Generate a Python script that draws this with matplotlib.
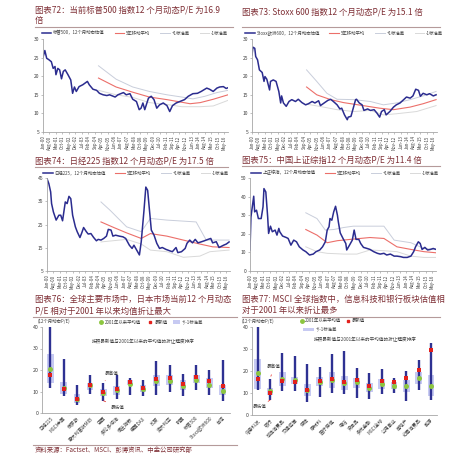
import matplotlib
matplotlib.use('Agg')
import matplotlib.pyplot as plt
from matplotlib.lines import Line2D
from matplotlib.patches import Patch
import numpy as np

plt.rcParams['font.family'] = ['Noto Sans CJK SC', 'DejaVu Sans']

# ---------------- data ----------------
date_ticks = [0, 7, 14, 21, 28, 35, 42, 49, 56, 63, 70, 77, 84, 91, 98, 105, 112,
              119, 126, 133, 140, 147, 154, 161, 168, 175, 182, 189, 196]
date_labels = ["Jan-00", "Aug-00", "Mar-01", "Oct-01", "May-02", "Dec-02", "Jul-03",
               "Feb-04", "Sep-04", "Apr-05", "Nov-05", "Jun-06", "Jan-07", "Aug-07",
               "Mar-08", "Oct-08", "May-09", "Dec-09", "Jul-10", "Feb-11", "Sep-11",
               "Apr-12", "Nov-12", "Jun-13", "Jan-14", "Aug-14", "Mar-15", "Oct-15", "May-16"]

# S&P 500
spx_m = [0, 2, 4, 6, 9, 11, 13, 14, 16, 18, 20, 22, 24, 27, 30, 32, 34, 36, 39, 43, 48, 50,
         54, 58, 61, 65, 69, 72, 78, 81, 87, 90, 94, 97, 101, 104, 106, 108, 110, 114, 117,
         120, 123, 126, 130, 134, 137, 140, 144, 148, 153, 157, 162, 167, 171, 177, 180,
         184, 188, 191, 195, 198, 200]
spx_v = [25.1, 26.9, 24.8, 24.5, 23.9, 22.1, 22.6, 20.4, 22.1, 21.7, 19.3, 21.3, 21.7, 20.4,
         19.0, 15.4, 17.1, 15.9, 17.2, 17.7, 18.6, 17.7, 16.5, 16.2, 15.4, 15.0, 14.8, 15.0,
         14.4, 15.0, 15.6, 15.0, 15.3, 13.8, 13.2, 11.0, 11.4, 12.8, 11.0, 14.1, 14.6, 13.7,
         11.4, 12.3, 12.8, 12.1, 10.5, 12.1, 12.8, 13.2, 13.7, 14.6, 15.3, 15.4, 15.9, 16.8,
         16.5, 15.9, 16.8, 17.1, 17.2, 16.7, 16.9]
spx_ma_m = [60, 79, 97, 115, 134, 150, 159, 170, 184, 200]
spx_ma_v = [19.5, 17.1, 15.7, 14.4, 13.7, 13.0, 12.6, 12.9, 13.8, 15.0]
spx_up_m = [60, 79, 97, 115, 134, 150, 162, 175, 188, 200]
spx_up_v = [22.8, 19.2, 17.1, 15.9, 15.0, 14.4, 13.9, 14.6, 15.6, 16.2]
spx_lo_m = [60, 79, 97, 115, 134, 150, 170, 184, 200]
spx_lo_v = [16.2, 15.0, 14.3, 12.9, 12.4, 11.8, 11.8, 12.0, 13.5]

# Stoxx 600
sxx_m = [0, 1, 3, 4, 6, 8, 11, 13, 14, 16, 19, 20, 23, 26, 29, 31, 32, 34, 37, 40, 43, 47,
         50, 54, 58, 61, 65, 68, 72, 74, 78, 82, 85, 88, 92, 95, 97, 100, 103, 104, 107, 110,
         112, 113, 116, 119, 121, 125, 128, 132, 135, 138, 140, 143, 145, 149, 153, 156, 160,
         164, 167, 171, 174, 177, 180, 182, 185, 189, 192, 196, 199]
sxx_v = [25.7, 27.8, 27.5, 25.3, 24.4, 21.7, 21.0, 18.6, 19.9, 19.2, 16.3, 18.6, 19.0, 18.6,
         15.9, 12.8, 14.7, 12.8, 11.9, 13.2, 13.7, 13.2, 13.8, 12.9, 12.3, 12.6, 13.2, 12.8,
         13.4, 12.1, 12.8, 13.5, 13.8, 13.2, 12.3, 11.2, 11.4, 9.6, 8.3, 9.0, 9.2, 11.9, 13.7,
         13.8, 12.8, 12.3, 10.8, 11.2, 10.8, 11.0, 10.1, 9.0, 10.5, 11.0, 9.6, 10.5, 11.7,
         12.3, 12.8, 13.7, 14.4, 14.1, 14.7, 16.5, 16.2, 14.6, 15.4, 15.0, 15.3, 14.7, 15.0]
sxx_ma_m = [59, 70, 85, 99, 120, 138, 153, 171, 185, 199]
sxx_ma_v = [17.1, 15.0, 13.7, 12.9, 12.1, 11.4, 11.0, 11.7, 12.6, 13.7]
sxx_up_m = [59, 70, 81, 92, 110, 128, 142, 156, 171, 185, 199]
sxx_up_v = [21.7, 18.6, 15.4, 13.8, 13.7, 13.2, 12.3, 12.8, 13.7, 14.7, 15.9]
sxx_lo_m = [59, 75, 92, 110, 128, 142, 156, 178, 199]
sxx_lo_v = [12.5, 11.8, 11.0, 10.5, 10.8, 9.6, 9.9, 10.5, 12.1]

# Nikkei 225
nky_m = [0, 2, 4, 5, 7, 10, 13, 15, 17, 20, 22, 24, 26, 28, 31, 33, 36, 38, 40, 43, 45, 48,
         51, 54, 56, 59, 62, 65, 67, 70, 72, 75, 79, 83, 86, 90, 93, 95, 98, 101, 103, 106,
         108, 110, 112, 114, 117, 120, 123, 126, 130, 134, 137, 141, 143, 147, 151, 153, 156,
         159, 162, 165, 169, 172, 176, 179, 181, 185, 188, 191, 193, 196, 199]
nky_v = [44.7, 42.6, 39.0, 34.0, 30.4, 26.9, 29.0, 29.0, 26.6, 34.7, 34.0, 37.1, 36.1, 29.0,
         24.0, 21.9, 19.4, 21.4, 23.7, 21.9, 20.9, 21.1, 19.4, 18.0, 18.6, 18.3, 19.0, 20.0,
         22.9, 22.6, 20.0, 20.4, 20.0, 19.7, 19.0, 16.1, 14.7, 16.1, 14.0, 11.9, 17.6, 31.1,
         41.1, 39.7, 31.1, 22.6, 20.4, 16.9, 14.7, 15.1, 14.3, 13.7, 13.3, 15.1, 12.9, 13.3,
         14.7, 16.9, 18.3, 17.1, 18.6, 17.1, 17.6, 18.0, 18.6, 19.0, 17.1, 17.6, 15.1, 15.7,
         16.1, 16.6, 17.5]
nky_ma_m = [59, 73, 87, 103, 113, 131, 149, 167, 181, 199]
nky_ma_v = [26.1, 23.7, 21.4, 19.0, 21.1, 20.0, 18.3, 16.6, 15.4, 15.1]
nky_up_m = [59, 69, 87, 103, 113, 131, 163, 174, 199]
nky_up_v = [34.7, 31.1, 24.0, 21.9, 27.6, 26.9, 26.1, 18.3, 18.3]
nky_lo_m = [59, 87, 103, 113, 131, 149, 167, 178, 199]
nky_lo_v = [17.5, 18.6, 16.6, 14.0, 13.3, 10.9, 11.4, 13.3, 14.0]

# Shanghai Composite
shc_m = [0, 1, 4, 5, 7, 9, 12, 14, 15, 17, 19, 20, 22, 24, 27, 29, 31, 32, 35, 39, 41, 44,
         47, 50, 53, 57, 60, 64, 68, 71, 75, 78, 81, 83, 85, 86, 88, 90, 92, 94, 95, 97, 100,
         103, 104, 107, 110, 112, 114, 117, 119, 122, 126, 129, 133, 137, 140, 144, 147, 151,
         155, 158, 162, 165, 169, 173, 176, 178, 181, 183, 185, 188, 191, 194, 197, 200]
shc_v = [11.3, 29.0, 40.2, 31.8, 32.7, 28.2, 28.2, 34.5, 44.3, 42.5, 29.1, 20.2, 24.1, 21.1,
         22.0, 19.3, 22.9, 21.1, 18.8, 18.0, 17.5, 13.9, 16.6, 15.7, 13.0, 11.3, 10.4, 8.6,
         9.1, 10.4, 11.3, 13.0, 15.7, 22.0, 23.8, 28.2, 27.3, 31.8, 34.8, 30.0, 26.4, 20.5,
         17.5, 14.8, 11.3, 13.9, 16.6, 22.0, 17.0, 17.0, 14.8, 12.7, 12.1, 11.6, 10.4, 9.5,
         9.1, 9.5, 8.6, 9.1, 8.0, 8.0, 7.7, 7.3, 7.3, 8.0, 10.4, 13.0, 15.7, 14.8, 11.6, 12.7,
         11.3, 11.6, 12.1, 11.6]
shc_ma_m = [60, 72, 83, 94, 108, 129, 144, 158, 173, 187, 200]
shc_ma_v = [22.3, 19.3, 15.2, 16.3, 17.0, 18.0, 17.5, 13.0, 11.6, 10.4, 9.8]
shc_up_m = [60, 72, 81, 90, 101, 111, 144, 155, 173, 187, 200]
shc_up_v = [31.3, 28.2, 22.0, 22.3, 23.4, 24.1, 24.1, 16.6, 15.2, 12.1, 11.6]
shc_lo_m = [60, 72, 83, 101, 115, 129, 144, 158, 173, 187, 200]
shc_lo_v = [13.0, 10.4, 9.5, 9.1, 9.1, 11.3, 10.9, 10.4, 8.0, 7.3, 7.3]

# Figure 76: markets
mkt_names = ["日经225", "MSCI中国", "俄罗斯", "意大利富时MIB", "巴西", "多伦多综指", "恒生指数",
             "德国DAX", "印度", "澳大利亚", "韩国", "标普500", "Stoxx欧洲600", "台湾"]
mkt_max = [40.0, 25.0, 13.2, 17.5, 14.0, 17.5, 16.3, 15.5, 24.0, 22.5, 18.0, 22.5, 20.0, 24.5]
mkt_min = [11.6, 7.8, 3.6, 9.0, 5.7, 6.5, 8.2, 7.8, 8.5, 10.0, 7.8, 10.8, 8.5, 5.7]
mkt_sd_hi = [27.4, 14.4, 9.0, 14.0, 11.2, 12.4, 15.5, 12.9, 17.8, 17.8, 15.5, 17.8, 16.3, 13.2]
mkt_sd_lo = [14.0, 9.0, 4.7, 10.8, 8.0, 8.5, 12.9, 9.8, 12.4, 12.9, 10.8, 14.0, 11.6, 8.5]
mkt_mean = [20.6, 11.6, 6.7, 12.9, 9.3, 10.5, 13.5, 11.2, 15.0, 14.7, 12.4, 15.3, 13.2, 10.4]
mkt_latest = [17.5, 11.3, 6.7, 12.9, 9.8, 11.2, 14.4, 11.6, 16.0, 16.3, 13.5, 16.9, 15.1, 12.4]

# Figure 77: MSCI sectors
sec_names = ["信息科技", "银行", "可选消费品", "交通运输", "保险", "原材料", "医疗保健", "电信",
             "资本品", "多元金融", "MSCI全球", "公用事业", "房地产", "必需消费品", "能源"]
sec_max = [40.0, 16.4, 28.0, 27.0, 23.0, 21.6, 27.8, 28.9, 21.3, 19.0, 21.0, 16.7, 20.0, 25.0, 32.7]
sec_min = [11.4, 6.8, 11.0, 11.0, 6.0, 8.4, 9.9, 9.4, 7.9, 7.3, 9.4, 10.2, 6.4, 11.4, 6.8]
sec_sd_hi = [25.4, 12.2, 19.5, 17.5, 14.0, 17.5, 19.5, 17.8, 17.0, 14.4, 16.4, 15.2, 16.0, 19.5, 18.0]
sec_sd_lo = [11.9, 9.1, 13.4, 14.0, 8.8, 13.4, 12.5, 11.4, 12.2, 10.6, 11.9, 11.9, 10.6, 14.0, 8.8]
sec_mean = [19.0, 11.0, 16.4, 16.0, 11.4, 15.2, 16.0, 14.4, 14.9, 12.5, 14.0, 13.4, 13.4, 16.7, 13.4]
sec_latest = [16.4, 9.9, 15.5, 14.9, 11.4, 15.5, 16.4, 14.9, 15.7, 13.4, 15.5, 14.8, 17.0, 20.5, 29.4]

# ---------------- styles ----------------
W, H = 474, 461
C_PE = '#2B2C8F'
C_MA = '#EC6F6A'
C_UP = '#C9CEDB'
C_LO = '#D9D9D9'
C_TITLE = '#7E2F35'
C_AX = '#A6A6A6'
C_TXT = '#404040'

fig = plt.figure(figsize=(4.74, 4.61), dpi=100)


def rect(l, t, r, b):
    return [l / W, 1 - b / H, (r - l) / W, (b - t) / H]


def fx(px):
    return px / W


def fy(py):
    return 1 - py / H


def hline(x0, x1, y, color='#B59A9A', lw=0.8):
    fig.add_artist(Line2D([fx(x0), fx(x1)], [fy(y), fy(y)], color=color, lw=lw,
                          transform=fig.transFigure))


def title(x, y, s, size=6.0):
    fig.text(fx(x), fy(y), s, color=C_TITLE, fontsize=size, fontweight='medium',
             style='italic', ha='left', va='center', linespacing=1.3)


def style_axes(ax):
    for sp in ['top', 'right']:
        ax.spines[sp].set_visible(False)
    for sp in ['left', 'bottom']:
        ax.spines[sp].set_color(C_AX)
        ax.spines[sp].set_linewidth(0.6)
    ax.tick_params(axis='both', colors=C_AX, labelcolor=C_TXT, length=1.5, width=0.5,
                   labelsize=3.6, pad=1)


def ts_panel(box, ylim, yticks, m, v, ma_m, ma_v, up_m, up_v, lo_m, lo_v, name, leg_xy):
    ax = fig.add_axes(rect(*box))
    ax.plot(up_m, up_v, color=C_UP, lw=0.7)
    ax.plot(lo_m, lo_v, color=C_LO, lw=0.7)
    ax.plot(ma_m, ma_v, color=C_MA, lw=0.8)
    ax.plot(m, v, color=C_PE, lw=1.1)
    ax.set_xlim(0, 200)
    ax.set_ylim(*ylim)
    ax.set_yticks(yticks)
    ax.set_xticks(date_ticks)
    ax.set_xticklabels(date_labels, rotation=90, fontsize=3.1)
    style_axes(ax)
    ax.tick_params(axis='x', labelsize=3.1)
    handles = [Line2D([], [], color=C_PE, lw=1.1), Line2D([], [], color=C_MA, lw=0.8),
               Line2D([], [], color=C_UP, lw=0.7), Line2D([], [], color=C_LO, lw=0.7)]
    labels = [name + "，12个月动态估值", "5年移动平均", "+1标准差", "-1标准差"]
    fig.legend(handles, labels, loc='center', bbox_to_anchor=(fx(leg_xy[0]), fy(leg_xy[1])),
               ncol=4, frameon=False, fontsize=3.2, handlelength=2.2, columnspacing=2.2,
               handletextpad=0.4, labelcolor=C_TXT)
    return ax


def box_panel(box, xlim, names, mx, mn, hi, lo, mean, latest, width):
    ax = fig.add_axes(rect(*box))
    x = np.arange(len(names))
    hi = np.array(hi)
    lo = np.array(lo)
    ax.bar(x, hi - lo, bottom=lo, width=width, color='#C7CAF2', zorder=1)
    ax.vlines(x, mn, mx, color='#2E3192', lw=1.7, zorder=2)
    ax.scatter(x, mean, s=13, color='#8CC63F', zorder=3, linewidths=0)
    ax.scatter(x, latest, s=8, marker='s', color='#E3211C', zorder=4, linewidths=0)
    ax.set_xlim(*xlim)
    ax.set_ylim(0, 40)
    ax.set_yticks([0, 10, 20, 30, 40])
    ax.set_xticks(x)
    ax.set_xticklabels(names, rotation=45, ha='right', rotation_mode='anchor', fontsize=3.4)
    style_axes(ax)
    ax.tick_params(axis='x', length=0, pad=2, labelsize=3.4)
    ax.tick_params(axis='y', labelsize=3.8)
    return ax


# ---------------- panels 72-75 ----------------
title(35, 16, "图表72：当前标普500 指数12 个月动态P/E 为16.9\n倍")
hline(35, 233, 27.5)
ts_panel((43, 39, 228, 132), (5, 30), [5, 10, 15, 20, 25, 30], spx_m, spx_v, spx_ma_m, spx_ma_v,
         spx_up_m, spx_up_v, spx_lo_m, spx_lo_v, "标普500", (135, 33))

title(242, 12, "图表73: Stoxx 600 指数12 个月动态P/E 为15.1 倍")
hline(242, 440, 27.5)
ts_panel((252, 39, 437, 132), (5, 30), [5, 10, 15, 20, 25, 30], sxx_m, sxx_v, sxx_ma_m, sxx_ma_v,
         sxx_up_m, sxx_up_v, sxx_lo_m, sxx_lo_v, "Stoxx欧洲600", (344, 33))

title(35, 161, "图表74：日经225 指数12 个月动态P/E 为17.5 倍")
hline(35, 228, 166.5)
ts_panel((47, 178, 230, 271), (5, 45), [5, 15, 25, 35, 45], nky_m, nky_v, nky_ma_m, nky_ma_v,
         nky_up_m, nky_up_v, nky_lo_m, nky_lo_v, "日经225", (136, 173))

title(242, 160, "图表75：中国上证综指12 个月动态P/E 为11.4 倍")
hline(242, 440, 165.5)
ts_panel((250, 178, 436, 271), (0, 50), [0, 10, 20, 30, 40, 50], shc_m, shc_v, shc_ma_m, shc_ma_v,
         shc_up_m, shc_up_v, shc_lo_m, shc_lo_v, "上证综指", (345, 173))

# ---------------- panel 76 ----------------
title(35, 305, "图表76：全球主要市场中，日本市场当前12 个月动态\nP/E 相对于2001 年以来均值折让最大")
hline(33, 237, 316.5)
ax76 = box_panel((42, 327, 230, 413), (-0.63, 13.55), mkt_names, mkt_max, mkt_min,
                 mkt_sd_hi, mkt_sd_lo, mkt_mean, mkt_latest, 0.5)
fig.text(fx(38), fy(321), "(12个月动态P/E)", fontsize=3.2, color=C_TXT, ha='left', va='center')
leg_h = [Line2D([], [], marker='o', ls='', color='#8CC63F', markersize=2.5),
         Line2D([], [], marker='s', ls='', color='#E3211C', markersize=2),
         Patch(facecolor='#C7CAF2', edgecolor='none')]
fig.legend(leg_h, ["2001年以来平均值", "最新值", "+/-1标准差"], loc='center',
           bbox_to_anchor=(fx(150), fy(322)), ncol=3, frameon=False, fontsize=3.2,
           handlelength=1.5, handletextpad=0.3, columnspacing=1.2, labelcolor=C_TXT)
fig.text(fx(143), fy(342), "按照最新值与2001年以来的平均值的折让程度排序", fontsize=3.3,
         color=C_TXT, ha='center', va='center')
ax76.annotate("最高值", xy=(4, mkt_max[4]), xytext=(4.6, mkt_max[4] + 4.5), fontsize=3.3,
              color=C_TXT, ha='center', va='center',
              arrowprops=dict(arrowstyle='-', color='#E3211C', lw=0.5))
ax76.annotate("最低值", xy=(4, mkt_min[4]), xytext=(5.1, mkt_min[4] - 3.0), fontsize=3.3,
              color=C_TXT, ha='center', va='center',
              arrowprops=dict(arrowstyle='-', color='#E3211C', lw=0.5))

# ---------------- panel 77 ----------------
title(242, 305, "图表77: MSCI 全球指数中，信息科技和银行板块估值相\n对于2001 年以来折让最多")
hline(242, 440, 316.5)
ax77 = box_panel((252, 327, 437, 415), (-0.46, 14.48), sec_names, sec_max, sec_min,
                 sec_sd_hi, sec_sd_lo, sec_mean, sec_latest, 0.55)
fig.text(fx(242), fy(321), "(12个月动态P/E)", fontsize=3.2, color=C_TXT, ha='left', va='center')
fig.legend(leg_h[:2], ["2001年以来平均值", "最新值"], loc='center',
           bbox_to_anchor=(fx(332), fy(321)), ncol=2, frameon=False, fontsize=3.2,
           handlelength=1.0, handletextpad=0.3, columnspacing=1.0, labelcolor=C_TXT)
fig.legend(leg_h[2:], ["+/-1标准差"], loc='center',
           bbox_to_anchor=(fx(320), fy(329.5)), ncol=1, frameon=False, fontsize=3.2,
           handlelength=2.5, handletextpad=0.5, labelcolor=C_TXT)
fig.text(fx(365), fy(340), "按照最新值与2001年以来的平均值的折让程度排序", fontsize=3.3,
         color=C_TXT, ha='center', va='center')
ax77.annotate("最高值", xy=(1, sec_max[1]), xytext=(1.3, sec_max[1] + 5.5), fontsize=3.3,
              color=C_TXT, ha='center', va='center',
              arrowprops=dict(arrowstyle='-', color='#E3211C', lw=0.5))
ax77.annotate("最低值", xy=(1, sec_min[1]), xytext=(0.2, sec_min[1] - 3.0), fontsize=3.3,
              color=C_TXT, ha='center', va='center',
              arrowprops=dict(arrowstyle='-', color='#E3211C', lw=0.5))

# ---------------- source ----------------
hline(33, 237, 444.5)
fig.text(fx(35), fy(450), "资料来源：Factset、MSCI、彭博资讯、中金公司研究部", color=C_TITLE,
         fontsize=4.6, style='italic', ha='left', va='center')

fig.savefig('out.png', dpi=100)
